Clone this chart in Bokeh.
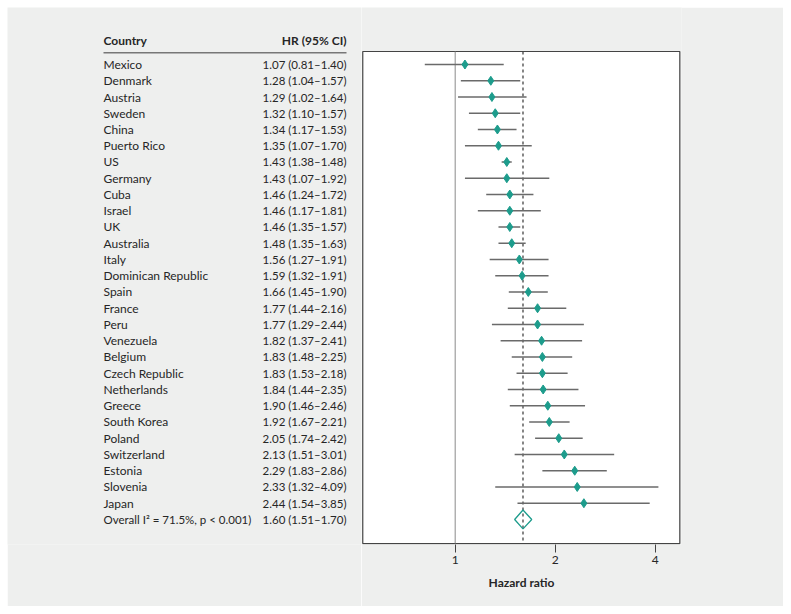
from bokeh.plotting import figure
from bokeh.layouts import row
from bokeh.models import Range1d, FixedTicker, BasicTickFormatter, ColumnDataSource
from bokeh.core.properties import value
from bokeh.embed import file_html
from bokeh.resources import INLINE

countries = ["Mexico", "Denmark", "Austria", "Sweden", "China", "Puerto Rico", "US",
             "Germany", "Cuba", "Israel", "UK", "Australia", "Italy", "Dominican Republic",
             "Spain", "France", "Peru", "Venezuela", "Belgium", "Czech Republic",
             "Netherlands", "Greece", "South Korea", "Poland", "Switzerland", "Estonia",
             "Slovenia", "Japan"]
hr = [1.07, 1.28, 1.29, 1.32, 1.34, 1.35, 1.43, 1.43, 1.46, 1.46, 1.46, 1.48, 1.56, 1.59,
      1.66, 1.77, 1.77, 1.82, 1.83, 1.83, 1.84, 1.90, 1.92, 2.05, 2.13, 2.29, 2.33, 2.44]
lo = [0.81, 1.04, 1.02, 1.10, 1.17, 1.07, 1.38, 1.07, 1.24, 1.17, 1.35, 1.35, 1.27, 1.32,
      1.45, 1.44, 1.29, 1.37, 1.48, 1.53, 1.44, 1.46, 1.67, 1.74, 1.51, 1.83, 1.32, 1.54]
hi = [1.40, 1.57, 1.64, 1.57, 1.53, 1.70, 1.48, 1.92, 1.72, 1.81, 1.57, 1.63, 1.91, 1.91,
      1.90, 2.16, 2.44, 2.41, 2.25, 2.18, 2.35, 2.46, 2.21, 2.42, 3.01, 2.86, 4.09, 3.85]
overall_label = "Overall I\u00b2 = 71.5%, p < 0.001)"
overall_hr, overall_lo, overall_hi = 1.60, 1.51, 1.70
x_ticks = [1, 2, 4]
x_label = "Hazard ratio"
head_country = "Country"
head_hr = "HR (95% CI)"

BG = "#eeefee"
TEAL = "#1d9c8c"
TXT = "#262626"
FONT = "Lato"
FS = "12px"
FS_NUM = "11.5px"

n = len(countries)
rows_y = list(range(n))
overall_y = n

def fmt(h, l, u):
    return f"{h:.2f} ({l:.2f}\u2013{u:.2f})"

hr_txt = [fmt(h, l, u) for h, l, u in zip(hr, lo, hi)] + [fmt(overall_hr, overall_lo, overall_hi)]
all_y = rows_y + [overall_y]

# layout geometry (rows of 16.25 px; first row 57 px below the panel top)
YR = (29.54, -3.508)        # frame spans panel top .. just below the white box
BOX_Y = (-0.8, 29.48)       # white plot box, in row units
BOX_X = (0.527, 4.744)      # white plot box, in HR units
XR = (0.5224, 4.80)
H = 599
BB = 62

# ---------------- left table figure ----------------
left = figure(width=354, height=H, output_backend="svg", toolbar_location=None,
              x_range=Range1d(0, 354), y_range=Range1d(*YR),
              min_border_left=0, min_border_right=0, min_border_top=0, min_border_bottom=BB)
left.axis.visible = False
left.grid.visible = False
left.outline_line_color = None
left.background_fill_color = BG
left.border_fill_color = BG

csrc = ColumnDataSource(dict(y=rows_y, lab=countries))
left.text(x=96, y="y", text="lab", source=csrc, text_font=value(FONT), text_font_size=FS,
          text_color=TXT, text_baseline="middle", text_align="left")
left.text(x=[96], y=[overall_y], text=[overall_label], text_font=value(FONT),
          text_font_size=FS_NUM, text_color=TXT, text_baseline="middle", text_align="left")
hsrc = ColumnDataSource(dict(y=all_y, hrt=hr_txt))
left.text(x=339, y="y", text="hrt", source=hsrc, text_font=value(FONT), text_font_size=FS_NUM,
          text_color=TXT, text_baseline="middle", text_align="right")
left.text(x=[96], y=[-1.48], text=[head_country], text_font=value(FONT), text_font_size=FS,
          text_font_style="bold", text_color=TXT, text_baseline="middle", text_align="left")
left.text(x=[339], y=[-1.48], text=[head_hr], text_font=value(FONT), text_font_size=FS,
          text_font_style="bold", text_color=TXT, text_baseline="middle", text_align="right")
left.segment(x0=[96], x1=[339], y0=[-0.72], y1=[-0.72], line_color="#777777", line_width=1.5)

# ---------------- forest figure ----------------
p = figure(width=422, height=H, output_backend="svg", toolbar_location=None,
           x_axis_type="log", x_range=Range1d(*XR), y_range=Range1d(*YR),
           min_border_left=0, min_border_right=102, min_border_top=0, min_border_bottom=BB)
p.yaxis.visible = False
p.grid.visible = False
p.background_fill_color = BG
p.border_fill_color = BG
p.outline_line_color = None

ax = p.xaxis[0]
ax.ticker = FixedTicker(ticks=x_ticks, minor_ticks=[])
ax.formatter = BasicTickFormatter()
ax.axis_line_color = None
ax.major_tick_line_color = "#444444"
ax.major_tick_out = 8
ax.major_tick_in = 0
ax.minor_tick_line_color = None
ax.major_label_text_font = FONT
ax.major_label_text_font_size = FS
ax.major_label_text_color = TXT
ax.major_label_standoff = 3
ax.axis_label = x_label
ax.axis_label_text_font = FONT
ax.axis_label_text_font_size = FS
ax.axis_label_text_font_style = "bold"
ax.axis_label_text_color = TXT
ax.axis_label_standoff = 8

# white plotting box with dark outline
p.quad(left=[BOX_X[0]], right=[BOX_X[1]], top=[BOX_Y[0]], bottom=[BOX_Y[1]],
       fill_color="white", line_color="#444444", line_width=1.2)

# reference line at HR = 1 and dashed line at the overall estimate
p.segment(x0=[1], x1=[1], y0=[BOX_Y[0]], y1=[BOX_Y[1]], line_color="#8a8a8a", line_width=1)
p.segment(x0=[overall_hr], x1=[overall_hr], y0=[BOX_Y[0]], y1=[BOX_Y[1]],
          line_color="#444444", line_width=1.3, line_dash="3 3")

src = ColumnDataSource(dict(y=rows_y, hr=hr, lo=lo, hi=hi))
p.segment(x0="lo", x1="hi", y0="y", y1="y", source=src, line_color="#6a6a6a", line_width=1.3)
p.scatter(x="hr", y="y", source=src, marker="diamond", size=9, fill_color=TEAL,
          line_color=TEAL)

p.patch(x=[overall_lo, overall_hr, overall_hi, overall_hr],
        y=[overall_y, overall_y - 0.58, overall_y, overall_y + 0.58],
        fill_color="white", fill_alpha=0.0, line_color=TEAL, line_width=1.3)

layout = row(left, p, spacing=0, margin=(7, 0, 0, 7))
open("out.html", "w").write(file_html(layout, INLINE))
